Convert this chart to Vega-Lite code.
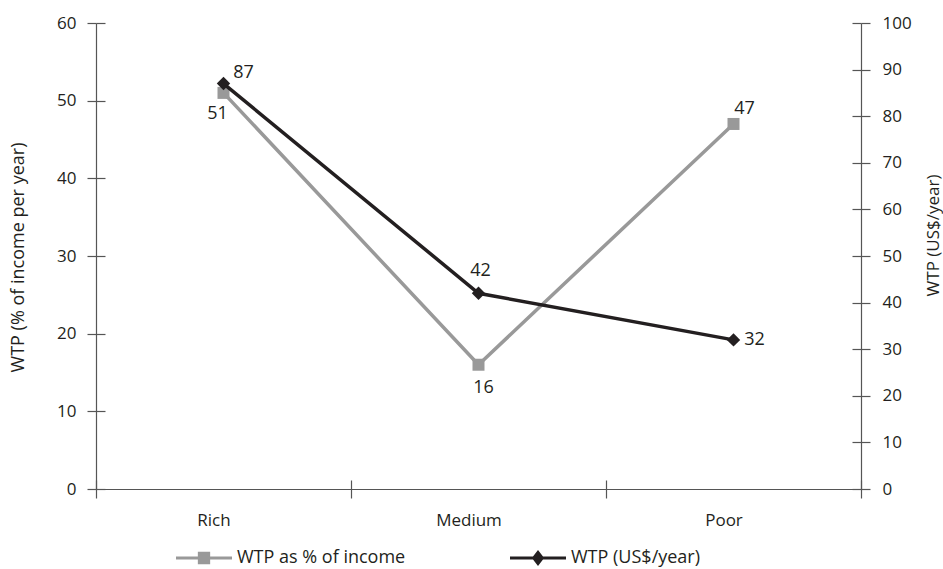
{
  "$schema": "https://vega.github.io/schema/vega-lite/v6.json",
  "width": 765,
  "height": 466,
  "autosize": {"type": "none"},
  "padding": {"left": 96, "top": 23, "right": 82, "bottom": 80},
  "background": "white",
  "config": {
    "view": {"stroke": null},
    "font": "Open Sans",
    "axis": {
      "labelFont": "Open Sans",
      "titleFont": "Open Sans",
      "labelColor": "#231f20",
      "titleColor": "#231f20",
      "domainColor": "#555555",
      "tickColor": "#555555",
      "gridColor": "#555555",
      "domainWidth": 1.2,
      "tickWidth": 1.2,
      "gridWidth": 1.2,
      "gridOpacity": 1,
      "titleFontWeight": "normal"
    },
    "legend": {"labelFont": "Open Sans"}
  },
  "datasets": {
    "pct": [
      {"group": "Rich", "series": "WTP as % of income", "value": 51},
      {"group": "Medium", "series": "WTP as % of income", "value": 16},
      {"group": "Poor", "series": "WTP as % of income", "value": 47}
    ],
    "usd": [
      {"group": "Rich", "series": "WTP (US$/year)", "value": 87},
      {"group": "Medium", "series": "WTP (US$/year)", "value": 42},
      {"group": "Poor", "series": "WTP (US$/year)", "value": 32}
    ]
  },
  "layer": [
    {
      "data": {"name": "pct"},
      "encoding": {
        "x": {
          "field": "group", "type": "nominal", "sort": ["Rich", "Medium", "Poor"],
          "scale": {"type": "band", "paddingInner": 0, "paddingOuter": 0},
          "axis": {
            "orient": "bottom", "title": null, "labelAngle": 0,
            "tickBand": "extent", "tickSize": 9, "grid": true, "gridDash": [9, 3000], "gridDashOffset": 2552,
            "labelPadding": 14, "labelOffset": -10, "labelFontSize": 17
          }
        },
        "y": {
          "field": "value", "type": "quantitative",
          "scale": {"domain": [0, 60], "nice": false, "zero": true},
          "axis": {
            "orient": "left", "title": "WTP (% of income per year)",
            "values": [0, 10, 20, 30, 40, 50, 60],
            "tickSize": 9, "grid": true, "gridDash": [9, 3000],
            "labelPadding": 11, "labelFontSize": 17,
            "titleFontSize": 18, "titleAngle": 270, "titleX": -78, "titleY": 234,
            "titleAlign": "center", "titleBaseline": "middle"
          }
        }
      },
      "layer": [
        {"mark": {"type": "line", "color": "#999999", "strokeWidth": 3.5}},
        {
          "mark": {"type": "point", "shape": "square", "filled": true, "size": 144, "opacity": 1},
          "encoding": {
            "color": {
              "field": "series", "type": "nominal",
              "scale": {"domain": ["WTP as % of income", "WTP (US$/year)"], "range": ["#999999", "#231f20"]},
              "legend": {
                "orient": "none", "legendX": 80, "legendY": 507, "direction": "horizontal",
                "title": null, "symbolSize": 3136, "labelFontSize": 18, "labelColor": "#231f20",
                "labelOffset": 5, "labelLimit": 400, "columnPadding": 104, "padding": 0, "symbolStrokeWidth": 0,
                "symbolOpacity": 1,
                "encode": {
                  "symbols": {
                    "update": {
                      "shape": {"signal": "datum.value === 'WTP as % of income' ? 'M-1,-0.055H1V0.055H-1Z M-0.22,-0.22H0.22V0.22H-0.22Z' : 'M-1,-0.055H1V0.055H-1Z M0,-0.29L0.22,0L0,0.29L-0.22,0Z'"},
                      "fill": {"signal": "datum.value === 'WTP as % of income' ? '#999999' : '#231f20'"},
                      "strokeWidth": {"value": 0},
                      "opacity": {"value": 1}
                    }
                  }
                }
              }
            }
          }
        },
        {
          "transform": [{"filter": "datum.group === 'Rich'"}],
          "mark": {"type": "text", "fontSize": 18, "color": "#231f20", "align": "center", "baseline": "middle", "dx": -6, "dy": 21},
          "encoding": {"text": {"field": "value", "type": "quantitative"}}
        },
        {
          "transform": [{"filter": "datum.group === 'Medium'"}],
          "mark": {"type": "text", "fontSize": 18, "color": "#231f20", "align": "center", "baseline": "middle", "dx": 5, "dy": 23},
          "encoding": {"text": {"field": "value", "type": "quantitative"}}
        },
        {
          "transform": [{"filter": "datum.group === 'Poor'"}],
          "mark": {"type": "text", "fontSize": 18, "color": "#231f20", "align": "center", "baseline": "middle", "dx": 11, "dy": -15},
          "encoding": {"text": {"field": "value", "type": "quantitative"}}
        }
      ]
    },
    {
      "data": {"name": "usd"},
      "encoding": {
        "x": {
          "field": "group", "type": "nominal", "sort": ["Rich", "Medium", "Poor"],
          "scale": {"type": "band", "paddingInner": 0, "paddingOuter": 0},
          "axis": {
            "orient": "bottom", "title": null, "labelAngle": 0,
            "tickBand": "extent", "tickSize": 9, "grid": true, "gridDash": [9, 3000], "gridDashOffset": 2552,
            "labelPadding": 14, "labelOffset": -10, "labelFontSize": 17
          }
        },
        "y": {
          "field": "value", "type": "quantitative",
          "scale": {"domain": [0, 100], "nice": false, "zero": true},
          "axis": {
            "orient": "right", "title": "WTP (US$/year)",
            "values": [0, 10, 20, 30, 40, 50, 60, 70, 80, 90, 100],
            "tickSize": 9, "grid": true, "gridDash": [9, 3000],
            "labelPadding": 12, "labelFontSize": 17,
            "titleFontSize": 17, "titleAngle": 270, "titleX": 72, "titleY": 212,
            "titleAlign": "center", "titleBaseline": "middle"
          }
        }
      },
      "layer": [
        {"mark": {"type": "line", "color": "#231f20", "strokeWidth": 3.5}},
        {
          "mark": {"type": "point", "shape": "diamond", "filled": true, "size": 180, "opacity": 1},
          "encoding": {
            "color": {
              "field": "series", "type": "nominal",
              "scale": {"domain": ["WTP as % of income", "WTP (US$/year)"], "range": ["#999999", "#231f20"]},
              "legend": {
                "orient": "none", "legendX": 80, "legendY": 507, "direction": "horizontal",
                "title": null, "symbolSize": 3136, "labelFontSize": 18, "labelColor": "#231f20",
                "labelOffset": 5, "labelLimit": 400, "columnPadding": 104, "padding": 0, "symbolStrokeWidth": 0,
                "symbolOpacity": 1,
                "encode": {
                  "symbols": {
                    "update": {
                      "shape": {"signal": "datum.value === 'WTP as % of income' ? 'M-1,-0.055H1V0.055H-1Z M-0.22,-0.22H0.22V0.22H-0.22Z' : 'M-1,-0.055H1V0.055H-1Z M0,-0.29L0.22,0L0,0.29L-0.22,0Z'"},
                      "fill": {"signal": "datum.value === 'WTP as % of income' ? '#999999' : '#231f20'"},
                      "strokeWidth": {"value": 0},
                      "opacity": {"value": 1}
                    }
                  }
                }
              }
            }
          }
        },
        {
          "transform": [{"filter": "datum.group === 'Rich'"}],
          "mark": {"type": "text", "fontSize": 18, "color": "#231f20", "align": "center", "baseline": "middle", "dx": 20, "dy": -11},
          "encoding": {"text": {"field": "value", "type": "quantitative"}}
        },
        {
          "transform": [{"filter": "datum.group === 'Medium'"}],
          "mark": {"type": "text", "fontSize": 18, "color": "#231f20", "align": "center", "baseline": "middle", "dx": 2, "dy": -22},
          "encoding": {"text": {"field": "value", "type": "quantitative"}}
        },
        {
          "transform": [{"filter": "datum.group === 'Poor'"}],
          "mark": {"type": "text", "fontSize": 18, "color": "#231f20", "align": "center", "baseline": "middle", "dx": 21, "dy": 0},
          "encoding": {"text": {"field": "value", "type": "quantitative"}}
        }
      ]
    }
  ],
  "resolve": {"scale": {"y": "independent"}}
}
